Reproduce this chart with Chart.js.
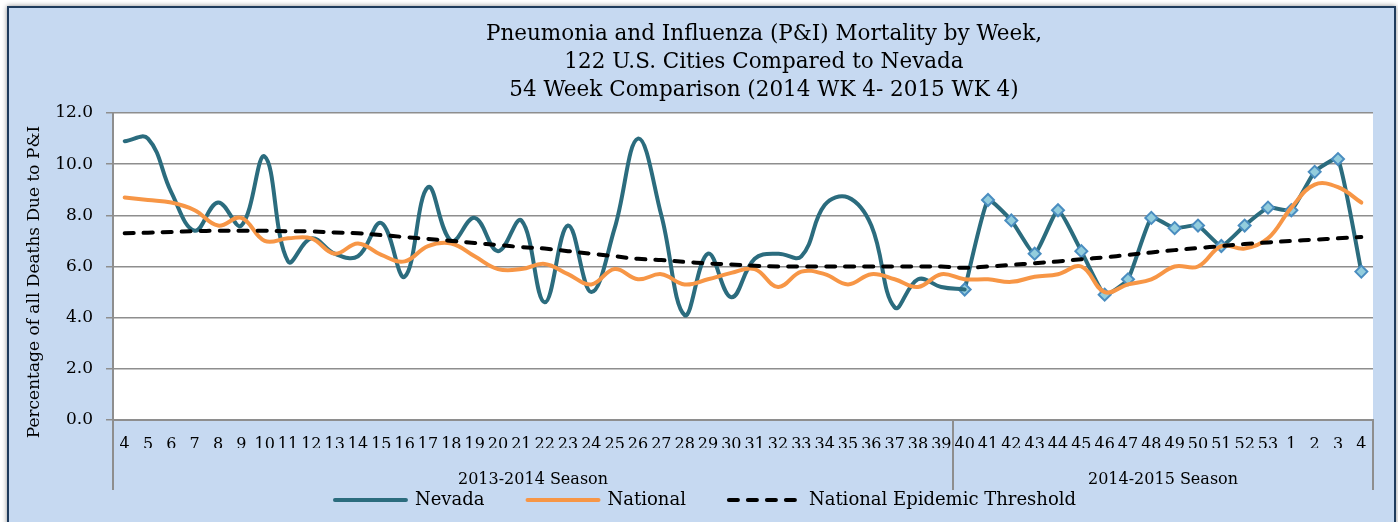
<!DOCTYPE html>
<html>
<head>
<meta charset="utf-8">
<script src="https://cdn.jsdelivr.net/npm/chart.js@4.4.1/dist/chart.umd.min.js"></script>
<style>
  html, body { margin: 0; padding: 0; background: #ffffff; width: 1398px; height: 522px; overflow: hidden; }
  #frame { position: absolute; left: 7px; top: 6px; width: 1385px; height: 540px; background: #C6D9F1;
           border: 2px solid #1F3B5C; box-shadow: 0 0 5px rgba(0,0,0,0.45); }
  #wrap { position: absolute; left: 0; top: 0; width: 1398px; height: 522px; }
</style>
</head>
<body>
<div id="frame"></div>
<div id="wrap"><canvas id="c" width="1398" height="522"></canvas></div>
<script>
// ---------------- data ----------------
const weeks = ['4','5','6','7','8','9','10','11','12','13','14','15','16','17','18','19','20','21','22','23',
               '24','25','26','27','28','29','30','31','32','33','34','35','36','37','38','39',
               '40','41','42','43','44','45','46','47','48','49','50','51','52','53','1','2','3','4'];

const nevada = [10.9, 11.0, 8.9, 7.4, 8.5, 7.6, 10.3, 6.2, 7.1, 6.5,
                6.4, 7.7, 5.6, 9.1, 7.0, 7.9, 6.6, 7.8, 4.6, 7.6,
                5.0, 7.5, 11.0, 8.0, 4.1, 6.5, 4.8, 6.3, 6.5, 6.4,
                8.4, 8.7, 7.6, 4.4, 5.5, 5.2, 5.1, 8.6, 7.8, 6.5,
                8.2, 6.6, 4.9, 5.5, 7.9, 7.5, 7.6, 6.8, 7.6, 8.3,
                8.2, 9.7, 10.2, 5.8];

const national = [8.7, 8.6, 8.5, 8.2, 7.6, 7.9, 7.0, 7.1, 7.1, 6.5,
                  6.9, 6.45, 6.2, 6.8, 6.9, 6.4, 5.9, 5.9, 6.1, 5.7,
                  5.3, 5.9, 5.5, 5.7, 5.3, 5.5, 5.75, 5.9, 5.2, 5.8,
                  5.7, 5.3, 5.7, 5.5, 5.2, 5.7, 5.5, 5.5, 5.4, 5.6,
                  5.7, 6.0, 5.0, 5.3, 5.5, 6.0, 6.0, 6.8, 6.7, 7.1,
                  8.3, 9.2, 9.1, 8.5];

const threshold = [7.3, 7.32, 7.35, 7.38, 7.4, 7.4, 7.4, 7.38, 7.37, 7.33,
                   7.3, 7.23, 7.15, 7.08, 7.0, 6.92, 6.84, 6.76, 6.7, 6.6,
                   6.5, 6.4, 6.3, 6.25, 6.18, 6.12, 6.08, 6.03, 6.0, 6.0,
                   6.0, 6.0, 6.0, 6.0, 6.0, 6.0, 5.95, 6.0, 6.06, 6.13,
                   6.2, 6.28, 6.36, 6.45, 6.55, 6.64, 6.72, 6.8, 6.88, 6.94,
                   7.0, 7.05, 7.1, 7.15];

const seasonNames = ['2013-2014 Season', '2014-2015 Season'];
const seasonStarts = [0, 36];            // first category index of each season
const yTickLabels = ['0.0', '2.0', '4.0', '6.0', '8.0', '10.0', '12.0'];
const titleLines = ['Pneumonia and Influenza (P&I) Mortality by Week,',
                    '122 U.S. Cities Compared to Nevada',
                    '54 Week Comparison (2014 WK 4- 2015 WK 4)'];
const yTitle = 'Percentage of all Deaths Due to P&I';
const seriesNames = ['Nevada', 'National', 'National Epidemic Threshold'];

// ---------------- styles ----------------
const FONT = '"DejaVu Serif", "Liberation Serif", serif';
const GRID = '#8e8e8e';
const C_NEV = '#2B6C7E';
const C_NAT = '#F79646';

const splitAt = seasonStarts[1];
const nevadaSeason1 = nevada.map((v, i) => i <= splitAt ? v : null);
const nevadaSeason2 = nevada.map((v, i) => i >= splitAt ? v : null);

const decorPlugin = {
  id: 'decor',
  beforeDraw(chart) {
    const {ctx, chartArea: a} = chart;
    ctx.save();
    ctx.fillStyle = '#ffffff';
    ctx.fillRect(a.left, a.top, a.right - a.left, a.bottom - a.top);
    ctx.restore();
  },
  afterDraw(chart) {
    const {ctx, chartArea: a} = chart;
    const xs = chart.scales.x;
    const step = xs.getPixelForValue(1) - xs.getPixelForValue(0);
    ctx.save();
    // chart title
    ctx.fillStyle = '#000';
    ctx.font = '21.5px ' + FONT;
    ctx.textAlign = 'center';
    ctx.textBaseline = 'alphabetic';
    titleLines.forEach((t, i) => ctx.fillText(t, 764, 40 + i * 28));
    // y axis title
    ctx.save();
    ctx.translate(35, 282);
    ctx.rotate(-Math.PI / 2);
    ctx.font = '17px ' + FONT;
    ctx.textBaseline = 'middle';
    ctx.fillText(yTitle, 0, 0);
    ctx.restore();
    // season group separators and labels
    const bounds = seasonStarts.map(s => xs.getPixelForValue(s) - step / 2);
    bounds.push(xs.getPixelForValue(weeks.length - 1) + step / 2);
    ctx.strokeStyle = GRID;
    ctx.lineWidth = 2;
    bounds.forEach(b => {
      ctx.beginPath();
      ctx.moveTo(b, a.bottom);
      ctx.lineTo(b, a.bottom + 70);
      ctx.stroke();
    });
    ctx.font = '16px ' + FONT;
    ctx.textBaseline = 'middle';
    seasonNames.forEach((n, i) => ctx.fillText(n, (bounds[i] + bounds[i + 1]) / 2, a.bottom + 60));
    ctx.restore();
  }
};

new Chart(document.getElementById('c'), {
  type: 'line',
  data: {
    labels: weeks,
    datasets: [
      { label: seriesNames[0], data: nevadaSeason1, borderColor: C_NEV, backgroundColor: C_NEV,
        borderWidth: 4, pointRadius: 0, tension: 0.4, order: 3, borderCapStyle: 'round' },
      { label: seriesNames[1], data: national, borderColor: C_NAT, backgroundColor: C_NAT,
        borderWidth: 4, pointRadius: 0, tension: 0.4, order: 2, borderCapStyle: 'round' },
      { label: seriesNames[2], data: threshold, borderColor: '#000', backgroundColor: '#000',
        borderWidth: 4, borderDash: [9, 10], borderCapStyle: 'round', pointRadius: 0, tension: 0.4, order: 1 },
      { label: seriesNames[0], hideInLegend: true, data: nevadaSeason2, borderColor: C_NEV, backgroundColor: C_NEV,
        borderWidth: 4, tension: 0.15, order: 3, borderCapStyle: 'round',
        pointStyle: 'rectRot', pointRadius: 6, pointBorderWidth: 2,
        pointBackgroundColor: '#93CDDD', pointBorderColor: '#4A8DC0' }
    ]
  },
  options: {
    responsive: false,
    animation: false,
    events: [],
    layout: { padding: { left: 38, right: 25, top: 113, bottom: 3 } },
    plugins: {
      title: { display: false },
      tooltip: { enabled: false },
      legend: {
        position: 'bottom',
        labels: {
          usePointStyle: true, pointStyle: 'line', pointStyleWidth: 71, padding: 43,
          color: '#000', font: { family: FONT, size: 18 },
          generateLabels(chart) {
            const items = Chart.defaults.plugins.legend.labels.generateLabels(chart);
            items.forEach(it => {
              const ds = chart.data.datasets[it.datasetIndex];
              it.lineWidth = ds.borderWidth;
              it.lineDash = ds.borderDash || [];
              it.lineCap = 'round';
              it.strokeStyle = ds.borderColor;
              it.fillStyle = ds.borderColor;
              it.pointStyle = 'line';
            });
            return items;
          },
          filter: (item, data) => !data.datasets[item.datasetIndex].hideInLegend,
          sort: (a, b) => a.datasetIndex - b.datasetIndex
        }
      }
    },
    scales: {
      x: {
        type: 'category', offset: true,
        grid: { display: false, drawTicks: false },
        border: { display: true, color: GRID, width: 2 },
        ticks: { autoSkip: false, maxRotation: 0, minRotation: 0, padding: 15,
                 color: '#000', font: { family: FONT, size: 16 } },
        afterFit(s) { s.height = 28; }
      },
      y: {
        min: 0, max: 12,
        ticks: { stepSize: 2, padding: 13, color: '#000', font: { family: FONT, size: 17 },
                 callback: (v, i) => yTickLabels[i] },
        grid: { color: GRID, lineWidth: 1.5, tickLength: 7, tickColor: GRID },
        border: { display: true, color: GRID, width: 2 },
        afterFit(s) { s.width = 75; }
      }
    }
  },
  plugins: [decorPlugin]
});
</script>
</body>
</html>
